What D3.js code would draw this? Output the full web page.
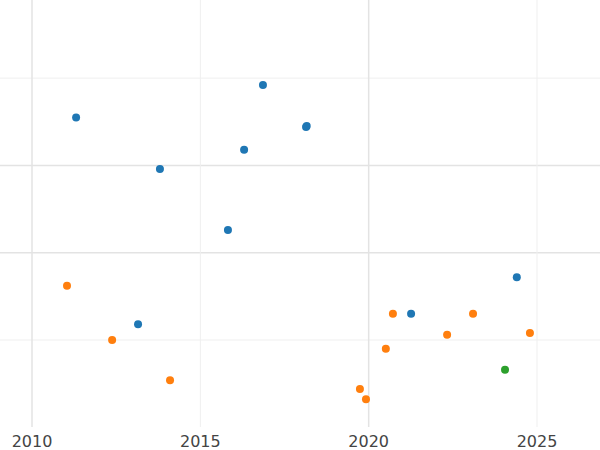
<!DOCTYPE html><html><head><meta charset="utf-8"><script src="https://cdn.jsdelivr.net/npm/d3@7"></script>
<style>body{margin:0;background:#fff}</style></head><body><svg id="c" width="600" height="450"></svg>
<script>
const blueX=[2011.31,2016.86,2018.14,2018.16,2013.80,2016.30,2015.82,2013.15,2021.26,2024.40];
const blueY=[3.55,3.92,3.44,3.45,2.96,3.18,2.26,1.18,1.30,1.72];
const orangeX=[2011.04,2012.38,2014.10,2019.74,2019.92,2020.51,2020.72,2022.33,2023.10,2024.79];
const orangeY=[1.62,1.00,0.54,0.44,0.32,0.90,1.30,1.06,1.30,1.08];
const greenX=[2024.05];
const greenY=[0.66];
const xTicks=[2010,2015,2020,2025];
const yGrid=[1,2,3,4];
const svg=d3.select("#c");
const x=d3.scaleLinear().domain([2010,2025]).range([32,537]);
const y=d3.scaleLinear().domain([0,1]).range([427.3,340]);
const major=d=>d===2||d===3;
svg.append("g").selectAll("line").data(yGrid).join("line")
 .attr("x1",0).attr("x2",600).attr("y1",d=>y(d)).attr("y2",d=>y(d))
 .attr("stroke",d=>major(d)?"#e3e3e3":"#efefef").attr("stroke-width",d=>major(d)?1.5:1);
svg.append("g").selectAll("line").data(xTicks).join("line")
 .attr("y1",0).attr("y2",427).attr("x1",d=>x(d)).attr("x2",d=>x(d))
 .attr("stroke",(d)=>d%10===0?"#e3e3e3":"#efefef").attr("stroke-width",(d)=>d%10===0?1.5:1);
svg.append("g").selectAll("text").data(xTicks).join("text")
 .attr("x",d=>x(d)).attr("y",447).attr("text-anchor","middle")
 .attr("font-family","DejaVu Sans").attr("font-size",16).attr("fill","#444").text(d=>d);
function pts(X,Y,c){svg.append("g").selectAll("circle").data(X).join("circle")
 .attr("cx",d=>x(d)).attr("cy",(d,i)=>y(Y[i])).attr("r",4).attr("fill",c);}
pts(blueX,blueY,"#1f77b4");pts(orangeX,orangeY,"#ff7f0e");pts(greenX,greenY,"#2ca02c");
</script></body></html>
